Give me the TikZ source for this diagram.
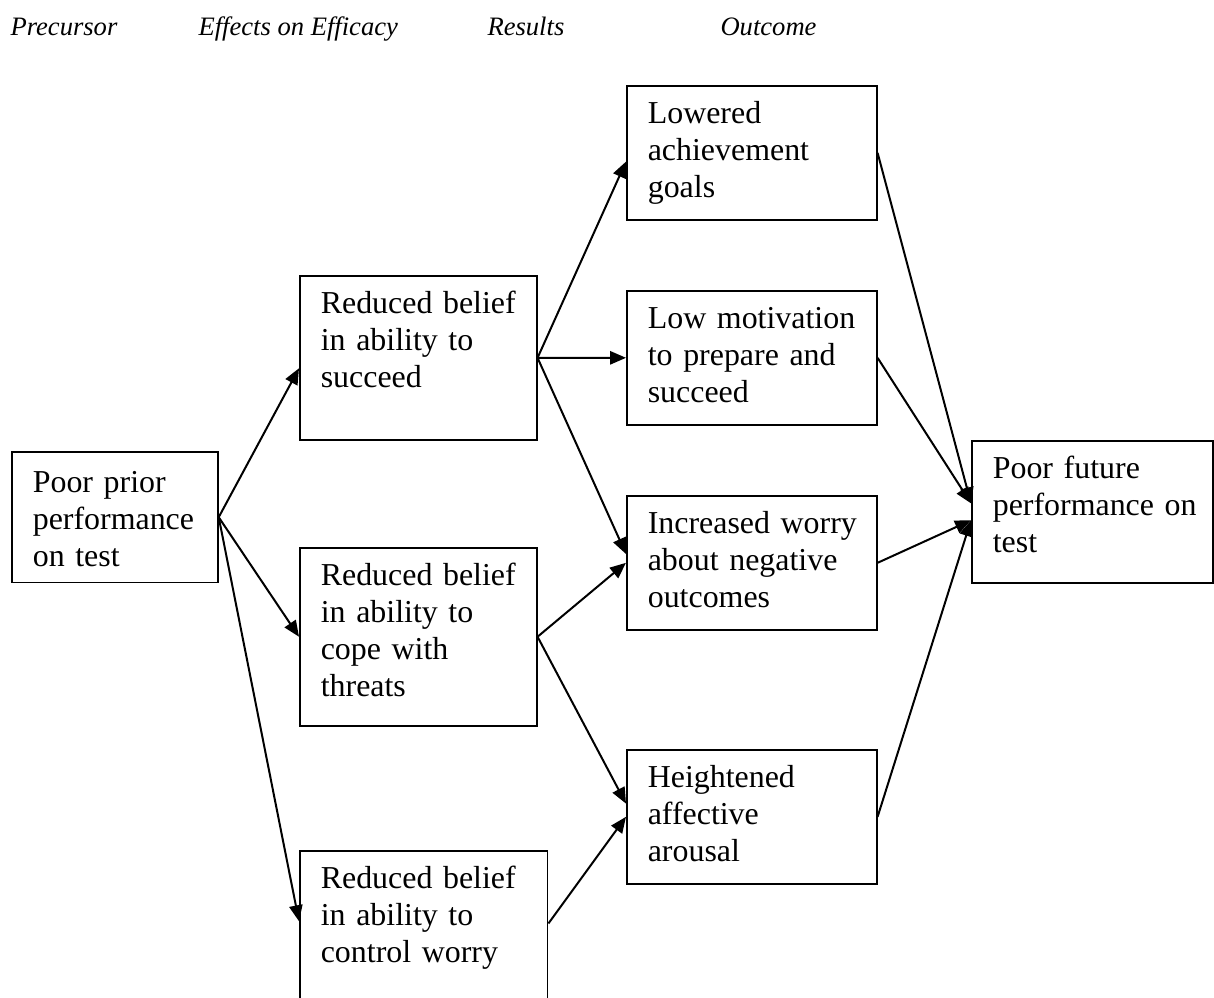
\documentclass[tikz,border=0pt]{standalone}
\usepackage{fontspec}
\setmainfont{Liberation Serif}
\usetikzlibrary{arrows.meta}

\begin{document}
\begin{tikzpicture}[x=0.376pt, y=-0.376pt,
    box/.style={draw, line width=0.6pt, anchor=north west, align=left,
        inner xsep=0pt, inner ysep=0pt, text height=14.3pt, text depth=36.1pt,
        execute at begin node={\leftskip=7.9pt},
        font=\fontsize{12}{13.9}\selectfont},
    head/.style={anchor=base west, inner sep=0pt, font=\fontsize{10}{12}\selectfont\itshape},
    conn/.style={-{Triangle[length=6pt,width=5pt]}, line width=0.75pt}]

    % Page
    \clip (0,0) rectangle (1214,998);

    % Column heads
    \node[head] (hprec) at (10,36) {Precursor};
    \node[head] (heff) at (198,36) {Effects on Efficacy};
    \node[head] (hres) at (487,36) {Results};
    \node[head] (hout) at (720,36) {Outcome};

    % Precursor
    \node[box, text width=77.5pt, text height=15.4pt, text depth=33.8pt] (prior) at (11,451)
        {Poor prior\\performance\\on test};

    % Effects on efficacy
    \node[box, text width=89.1pt, text depth=47.4pt] (succ) at (299,275)
        {Reduced belief\\in ability to\\succeed};
    \node[box, text width=89.1pt, text depth=52.6pt] (cope) at (299,547)
        {Reduced belief\\in ability to\\cope with\\threats};
    \node[box, text width=93.2pt, text depth=43.6pt] (ctrl) at (299,850)
        {Reduced belief\\in ability to\\control worry};

    % Results
    \node[box, text width=94pt] (goals) at (626,85)
        {Lowered\\achievement\\goals};
    \node[box, text width=94pt] (motiv) at (626,290)
        {Low motivation\\to prepare and\\succeed};
    \node[box, text width=94pt] (worry) at (626,495)
        {Increased worry\\about negative\\outcomes};
    \node[box, text width=94pt] (arous) at (626,749)
        {Heightened\\affective\\arousal};

    % Outcome
    \node[box, text width=90.6pt, text depth=39.1pt] (future) at (971,440)
        {Poor future\\performance on\\test};

    % Links
    \draw[conn] (prior.east) -- (succ.185);
    \draw[conn] (prior.east) -- (cope.west);
    \draw[conn] (prior.east) -- (ctrl.177);

    \draw[conn] (succ.east) -- (goals.184);
    \draw[conn] (succ.east) -- (motiv.west);
    \draw[conn] (succ.east) -- (worry.176);
    \draw[conn] (cope.east) -- (worry.west);
    \draw[conn] (cope.east) -- (arous.174);
    \draw[conn] (ctrl.2) -- (arous.west);

    \draw[conn] (goals.east) -- (future.176);
    \draw[conn] (motiv.east) -- (future.176);
    \draw[conn] (worry.east) -- (future.184);
    \draw[conn] (arous.east) -- (future.184);

\end{tikzpicture}
\end{document}
